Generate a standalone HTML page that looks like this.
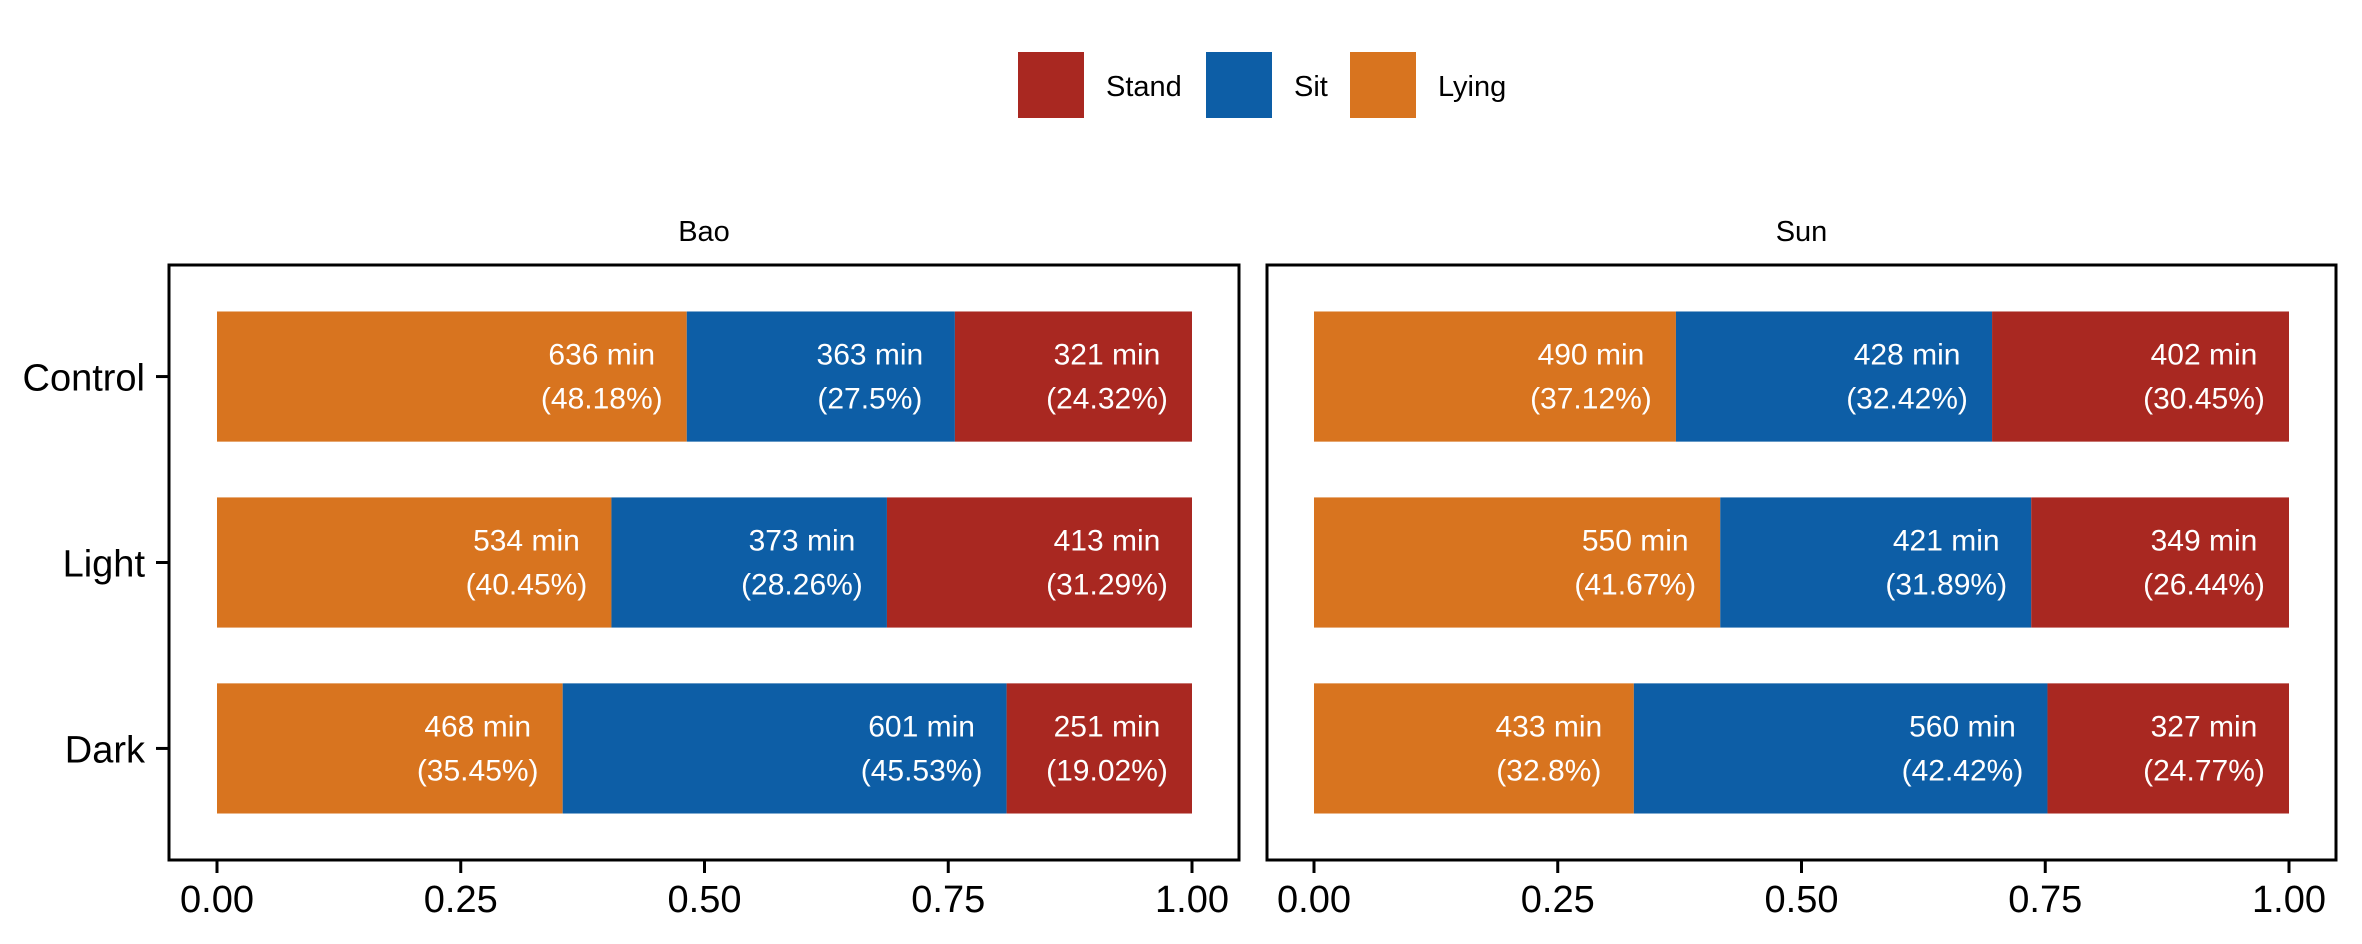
<!DOCTYPE html>
<html><head><meta charset="utf-8"><style>
body{margin:0;background:#fff}
svg{display:block;font-family:"Liberation Sans",Arial,sans-serif}
</style></head><body>
<svg id="chart" width="2362" height="944" viewBox="0 0 2362 944" xmlns="http://www.w3.org/2000/svg">
<rect width="2362" height="944" fill="#fff"/>
<g>
 <g><rect x="1018" y="52" width="66" height="66" fill="#A92821"/><text x="1106" y="96" font-size="29">Stand</text></g>
 <g><rect x="1206" y="52" width="66" height="66" fill="#0D5EA6"/><text x="1294" y="96" font-size="29">Sit</text></g>
 <g><rect x="1350" y="52" width="66" height="66" fill="#D8741F"/><text x="1438" y="96" font-size="29">Lying</text></g>
</g>
<g id="panels"></g>
</svg>
<script>
const panelNames = ["Bao", "Sun"];
const categories = ["Control", "Light", "Dark"];
const seriesNames = ["Lying", "Sit", "Stand"];
const baoMinutes = [[636, 363, 321], [534, 373, 413], [468, 601, 251]];
const baoPercent = [[48.18, 27.5, 24.32], [40.45, 28.26, 31.29], [35.45, 45.53, 19.02]];
const sunMinutes = [[490, 428, 402], [550, 421, 349], [433, 560, 327]];
const sunPercent = [[37.12, 32.42, 30.45], [41.67, 31.89, 26.44], [32.8, 42.42, 24.77]];
const xTicks = [0, 0.25, 0.5, 0.75, 1];
const xTickLabels = ["0.00", "0.25", "0.50", "0.75", "1.00"];

const colors = ["#D8741F", "#0D5EA6", "#A92821"];
const NS = "http://www.w3.org/2000/svg";
const root = document.getElementById("panels");
const panelTop = 265, panelBottom = 860;
const panelsGeom = [{left:169,right:1239,x0:217,x1:1192},{left:1267,right:2336,x0:1314,x1:2289}];
const minutesAll = [baoMinutes, sunMinutes], percentAll = [baoPercent, sunPercent];
function mk(tag, attrs, parent){const e=document.createElementNS(NS,tag);for(const k in attrs)e.setAttribute(k,attrs[k]);parent.appendChild(e);return e;}
const unit = (panelBottom-panelTop)/(categories.length-1+1.2);
function yScale(i){return panelTop + unit*(0.6+i);}
const barH = unit*0.7;

panelNames.forEach((pn, p) => {
  const g = panelsGeom[p];
  const xs = v => g.x0 + v*(g.x1-g.x0);
  const pg = mk("g", {}, root);
  
  
  const st = mk("text", {x:(g.left+g.right)/2, y:241, "font-size":29, "text-anchor":"middle"}, pg);
  st.textContent = pn;
  
  
  categories.forEach((c, i) => {
    const cy = yScale(i);
    let cum = 0;
    const total = minutesAll[p][i].reduce((a,b)=>a+b,0);
    seriesNames.forEach((s, k) => {
      const frac = minutesAll[p][i][k]/total;
      const xa = xs(cum), xb = xs(cum+frac);
      const r = mk("rect", {x:xa, y:cy-barH/2, width:xb-xa, height:barH, fill:colors[k]}, pg);
      
      
      cum += frac;
      const t = mk("text", {x:xb-85, y:cy-22+10, "font-size":30, fill:"#fff", "text-anchor":"middle"}, pg);
      t.textContent = minutesAll[p][i][k] + " min";
      
      
      const t2 = mk("text", {x:xb-85, y:cy+22+10, "font-size":30, fill:"#fff", "text-anchor":"middle"}, pg);
      t2.textContent = "(" + percentAll[p][i][k] + "%)";
      
      
    });
    if (p === 0) {
      const tk = mk("line", {x1:156, x2:169, y1:cy, y2:cy, stroke:"#000", "stroke-width":3}, pg);
      
      
      const yl = mk("text", {x:145, y:cy+14, "font-size":38, "text-anchor":"end"}, pg);
      yl.textContent = c;
      
      
    }
  });
  const border = mk("rect", {x:g.left, y:panelTop, width:g.right-g.left, height:panelBottom-panelTop, fill:"none", stroke:"#000", "stroke-width":3}, pg);
  
  
  xTicks.forEach((v, j) => {
    const tk = mk("line", {x1:xs(v), x2:xs(v), y1:panelBottom, y2:panelBottom+13, stroke:"#000", "stroke-width":3}, pg);
    
    
    const tl = mk("text", {x:xs(v), y:912, "font-size":38, "text-anchor":"middle"}, pg);
    tl.textContent = xTickLabels[j];
    
    
  });
});
</script>
</body></html>
